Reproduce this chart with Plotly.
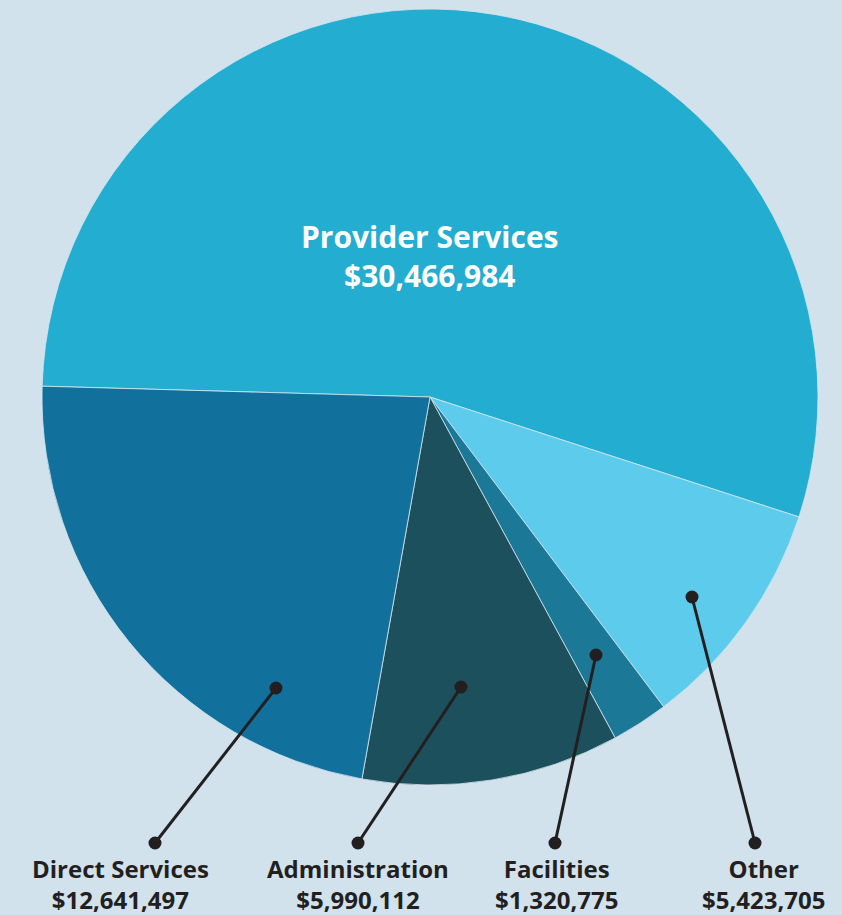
import plotly.graph_objects as go

W, H = 842, 915

categories = ["Provider Services", "Other", "Facilities", "Administration", "Direct Services"]
values = [30466984, 5423705, 1320775, 5990112, 12641497]
colors = ["#23aed1", "#5ccbec", "#1b7896", "#1c505c", "#12719c"]

# callout labels (bottom row)
callout_names = ["Direct Services", "Administration", "Facilities", "Other"]
callout_values = [12641497, 5990112, 1320775, 5423705]

def px(x, y):
    return x / W, 1 - y / H

fig = go.Figure()
fig.add_trace(go.Pie(
    labels=categories, values=values,
    marker=dict(colors=colors, line=dict(color="#d6e6f0", width=0.8)),
    sort=False, direction="clockwise", rotation=-88.4,
    textinfo="none", hoverinfo="label+value", showlegend=False,
    domain=dict(x=[42 / W, 818 / W], y=[1 - 785 / H, 1 - 9 / H]),
))

# leader lines: (start point on slice, end point above label)
leader_start = [(276, 688), (461, 687), (596, 655), (692, 597)]
leader_end = [(155, 843), (358, 843), (555, 843), (755, 843)]
label_x = [120, 358, 556, 763]

line_color = "#231f20"
for (sx, sy), (ex, ey) in zip(leader_start, leader_end):
    x0, y0 = px(sx, sy)
    x1, y1 = px(ex, ey)
    fig.add_shape(type="line", xref="paper", yref="paper", x0=x0, y0=y0, x1=x1, y1=y1,
                  line=dict(color=line_color, width=3))
    for (cx, cy) in [(sx, sy), (ex, ey)]:
        r = 6.5
        a0, b0 = px(cx - r, cy + r)
        a1, b1 = px(cx + r, cy - r)
        fig.add_shape(type="circle", xref="paper", yref="paper", x0=a0, y0=b0, x1=a1, y1=b1,
                      fillcolor=line_color, line=dict(color=line_color, width=0))

font_family = "'Open Sans', Lato, sans-serif"
for name, val, lx in zip(callout_names, callout_values, label_x):
    ax, ay = px(lx, 884)
    fig.add_annotation(xref="paper", yref="paper", x=ax, y=ay, xanchor="center", yanchor="middle",
                       text=f"<b>{name}</b><br><b>${val:,}</b>", showarrow=False,
                       font=dict(family=font_family, size=24, color="#231f20"), align="center")

ax, ay = px(430, 256)
fig.add_annotation(xref="paper", yref="paper", x=ax, y=ay, xanchor="center", yanchor="middle",
                   text=f"<b>{categories[0]}</b><br><b>${values[0]:,}</b>", showarrow=False,
                   font=dict(family=font_family, size=30, color="white"), align="center")

fig.update_layout(width=W, height=H, margin=dict(l=0, r=0, t=0, b=0),
                  paper_bgcolor="#d1e2ed", plot_bgcolor="#d1e2ed")
fig.write_html("out.html", config={"displayModeBar": False},
               post_script="document.body.style.margin='0';")
